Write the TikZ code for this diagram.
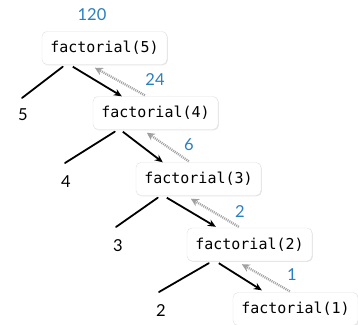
\documentclass[tikz,border=0pt]{standalone}
\usepackage{fontspec}
\setmainfont{Lato}
\setmonofont{DejaVu Sans Mono}
\usetikzlibrary{shadows,arrows.meta,calc}
\definecolor{numblue}{HTML}{2A7FC0}
\definecolor{retgray}{HTML}{A0A0A0}
\tikzset{
  callbox/.style={draw=black!12, fill=white, rounded corners=5pt, minimum width=125pt,
    minimum height=33pt, inner sep=0pt, font=\fontsize{15}{15}\selectfont\ttfamily,
    drop shadow={shadow xshift=0.8pt, shadow yshift=-0.8pt, opacity=0.25, fill=black!40}},
  retnum/.style={text=numblue, font=\fontsize{16.5}{16.5}\selectfont, inner sep=0pt},
  argnum/.style={text=black, font=\fontsize{16.5}{16.5}\selectfont, inner sep=0pt},
  argline/.style={line width=1.8pt, line cap=round},
  callarrow/.style={line width=1.8pt, -{Stealth[length=8pt,width=7pt]}},
  retarrow/.style={line width=2.4pt, retgray, dash pattern=on 1pt off 1pt, -{Stealth[length=8pt,width=8pt,fill=retgray]}}
}
\begin{document}
\begin{tikzpicture}[x=1pt,y=-1pt]
\useasboundingbox (0,0) rectangle (358,324);
\node[callbox] (b1) at (104.5,48) {factorial(5)};
\node[callbox] (b2) at (155.5,113) {factorial(4)};
\node[callbox] (b3) at (198.5,179) {factorial(3)};
\node[callbox] (b4) at (249.5,244.5) {factorial(2)};
\node[callbox] (b5) at (295.5,309) {factorial(1)};

\node[retnum] (r120) at (92,15) {120};
\node[retnum] (r24) at (155,80) {24};
\node[retnum] (r6) at (189,145) {6};
\node[retnum] (r2) at (240,212) {2};
\node[retnum] (r1) at (292,275) {1};

\node[argnum] (a5) at (23,115) {5};
\node[argnum] (a4) at (66,182) {4};
\node[argnum] (a3) at (118,246) {3};
\node[argnum] (a2) at (161,311) {2};

% free ends of argument lines
\coordinate (e5) at (22,98);
\coordinate (e4) at (65,163);
\coordinate (e3) at (116,227);
\coordinate (e2) at (159,292);

% level 1
\draw[argline] ($(b1.south west)+(21,2)$) -- (e5);
\draw[callarrow] ($(b1.south west)+(31,2)$) -- ($(b2.north west)+(29,0)$);
\draw[retarrow] ($(b2.north west)+(52,-1)$) -- ($(b1.south west)+(53,3)$);
% level 2
\draw[argline] ($(b2.south west)+(22,2)$) -- (e4);
\draw[callarrow] ($(b2.south west)+(30,2)$) -- ($(b3.north west)+(27,0)$);
\draw[retarrow] ($(b3.north west)+(53,-1)$) -- ($(b2.south west)+(54,3)$);
% level 3
\draw[argline] ($(b3.south west)+(22,2)$) -- (e3);
\draw[callarrow] ($(b3.south west)+(31,2)$) -- ($(b4.north west)+(29,-1)$);
\draw[retarrow] ($(b4.north west)+(52,-1)$) -- ($(b3.south west)+(55,3)$);
% level 4
\draw[argline] ($(b4.south west)+(22,2)$) -- (e2);
\draw[callarrow] ($(b4.south west)+(32,2)$) -- ($(b5.north west)+(29,-2)$);
\draw[retarrow] ($(b5.north west)+(57,-1)$) -- ($(b4.south west)+(55,3)$);
\end{tikzpicture}
\end{document}
